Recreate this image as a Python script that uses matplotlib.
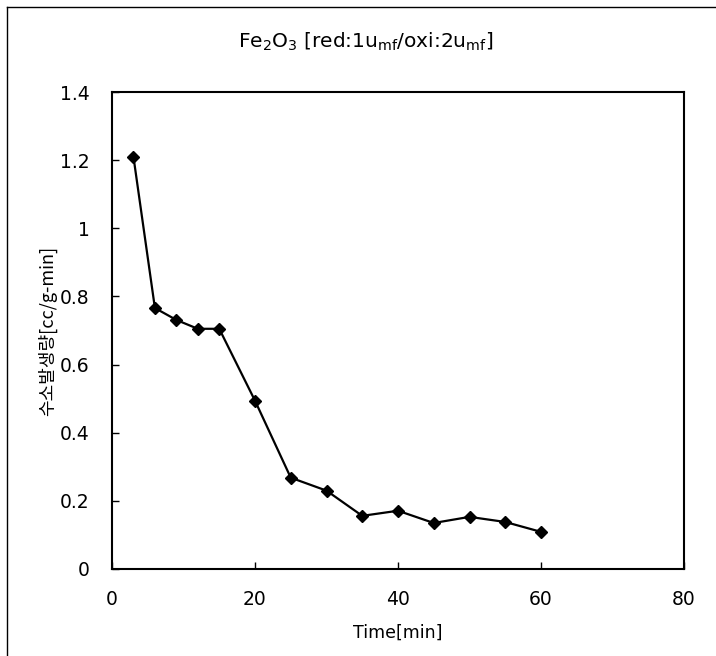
import matplotlib
matplotlib.use("Agg")
import matplotlib.pyplot as plt
from matplotlib.lines import Line2D

plt.rcParams['font.family'] = ['DejaVu Sans', 'Noto Sans CJK KR']
plt.rcParams['mathtext.fontset'] = 'dejavusans'

# data
time_min = [3, 6, 9, 12, 15, 20, 25, 30, 35, 40, 45, 50, 55, 60]
h2_rate = [1.21, 0.766, 0.731, 0.705, 0.705, 0.494, 0.268, 0.230,
           0.156, 0.171, 0.135, 0.153, 0.138, 0.109]
x_ticks = [0, 20, 40, 60, 80]
y_ticks = [0, 0.2, 0.4, 0.6, 0.8, 1.0, 1.2, 1.4]
y_tick_labels = ["0", "0.2", "0.4", "0.6", "0.8", "1", "1.2", "1.4"]

fig = plt.figure(figsize=(7.16, 6.56), dpi=100)
ax = fig.add_axes([112 / 716, 1 - 569 / 656, (684 - 112) / 716, (569 - 92) / 656])

ax.plot(time_min, h2_rate, color="black", lw=1.6, marker="D", ms=5.8,
        markerfacecolor="black", markeredgecolor="black")

ax.set_xlim(0, 80)
ax.set_ylim(0, 1.4)
ax.set_xticks(x_ticks)
ax.set_yticks(y_ticks)
ax.set_yticklabels(y_tick_labels)
ax.tick_params(direction="in", length=5, width=1, labelsize=13.5,
               top=False, right=False)
ax.tick_params(axis="x", pad=15)
ax.tick_params(axis="y", pad=16)
for sp in ax.spines.values():
    sp.set_linewidth(1.5)

ax.set_xlabel("Time[min]", fontsize=12.5, labelpad=11)
ax.set_ylabel("수소발생량[cc/g-min]", fontsize=13, labelpad=2,
              family=['Noto Sans CJK KR', 'DejaVu Sans'])

fig.text(366 / 716, 1 - 42 / 656,
         r"Fe$_2$O$_3$ [red:1u$_{\rm mf}$/oxi:2u$_{\rm mf}$]",
         ha="center", va="center", fontsize=14.5)

# page frame (left and top edges visible)
fig.add_artist(Line2D([7 / 716, 7 / 716], [0, 1 - 7 / 656],
                      transform=fig.transFigure, color="black", lw=1))
fig.add_artist(Line2D([7 / 716, 1], [1 - 7 / 656, 1 - 7 / 656],
                      transform=fig.transFigure, color="black", lw=1))

fig.savefig("out.png", dpi=100)
